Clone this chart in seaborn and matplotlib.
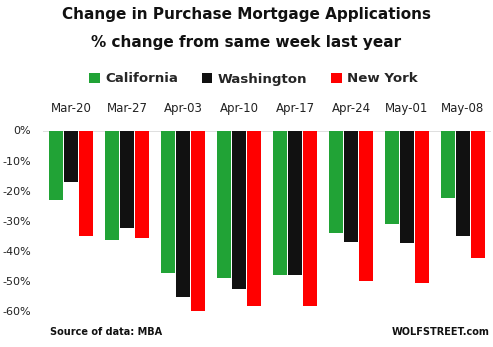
import matplotlib
matplotlib.use("Agg")
import matplotlib.pyplot as plt
import seaborn as sns
import pandas as pd
from matplotlib.patches import Patch

weeks = ["Mar-20", "Mar-27", "Apr-03", "Apr-10", "Apr-17", "Apr-24", "May-01", "May-08"]
california = [-23.0, -36.3, -47.3, -49.0, -48.0, -34.0, -31.0, -22.4]
washington = [-17.0, -32.3, -55.3, -52.6, -48.0, -37.0, -37.3, -35.0]
new_york = [-35.0, -35.7, -60.0, -58.3, -58.3, -50.0, -50.6, -42.3]
series = ["California", "Washington", "New York"]
colors = ["#21A336", "#111111", "#FF0000"]
yticks = [0, -10, -20, -30, -40, -50, -60]

rows = []
for name, vals in zip(series, [california, washington, new_york]):
    for w, v in zip(weeks, vals):
        rows.append({"week": w, "state": name, "value": v})
df = pd.DataFrame(rows)

sns.set_theme(style="white")
plt.rcParams["font.family"] = ["DejaVu Sans"]

fig = plt.figure(figsize=(4.93, 3.47), dpi=100)
ax = fig.add_axes([43/493, 1-318.3/347, 448/493, (318.3-130.5)/347])

sns.barplot(data=df, x="week", y="value", hue="state", order=weeks,
            hue_order=series, palette=colors, width=0.82, gap=0.08,
            saturation=1, ax=ax, legend=False, edgecolor="none")

ax.set_xlim(-0.5, len(weeks)-0.5)
ax.set_ylim(-62.5, 0)
ax.axhline(0, color="#d9d9d9", lw=1.2, zorder=0)
for s in ax.spines.values():
    s.set_visible(False)
ax.set_yticks(yticks)
ax.set_yticklabels([f"{t}%" for t in yticks], fontsize=8, color="#222222")
ax.xaxis.tick_top()
ax.tick_params(axis="x", length=0, pad=11, labelsize=8.5, labelcolor="#222222")
ax.tick_params(axis="y", length=0, pad=8.5)
ax.set_xlabel("")
ax.set_ylabel("")

fig.text(0.5, 1-15/347, "Change in Purchase Mortgage Applications", ha="center", va="center",
         fontsize=11, fontweight="bold", color="#111111")
fig.text(0.5, 1-42/347, "% change from same week last year", ha="center", va="center",
         fontsize=11, fontweight="bold", color="#111111")

handles = [Patch(facecolor=c, edgecolor="none") for c in colors]
fig.legend(handles, series, loc="center", bbox_to_anchor=(0.514, 1-79/347), ncol=3,
           frameon=False, prop={"weight": "bold", "size": 9.6}, handlelength=0.8,
           handleheight=0.8, handletextpad=0.4, columnspacing=1.8)

fig.text(50/493, 1-332/347, "Source of data: MBA", ha="left", va="center",
         fontsize=7, fontweight="bold", color="#111111")
fig.text(490/493, 1-332/347, "WOLFSTREET.com", ha="right", va="center",
         fontsize=7, fontweight="bold", color="#111111")

fig.savefig("out.png", dpi=100)
